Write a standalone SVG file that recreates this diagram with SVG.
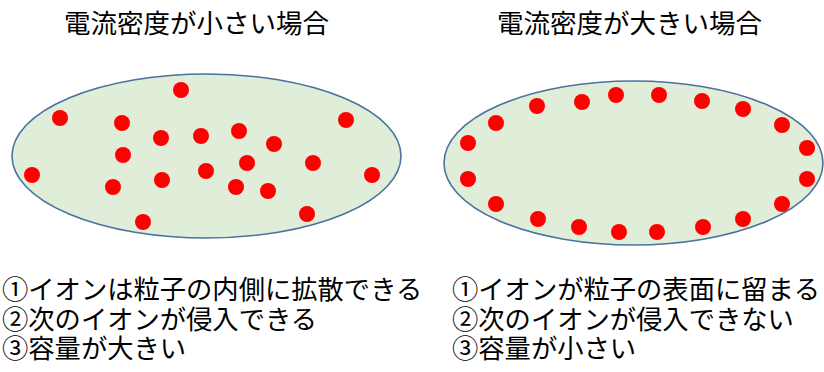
<svg xmlns="http://www.w3.org/2000/svg" width="824" height="372" viewBox="0 0 824 372">
<defs>
<style>
.t{font-family:"Noto Sans CJK JP","Noto Sans CJK SC",sans-serif;font-size:26.5px;fill:#000}
.b{font-family:"Noto Sans CJK JP","Noto Sans CJK SC",sans-serif;font-size:26.3px;fill:#000}
.e{fill:#e0edd8;stroke:#4a72a0;stroke-width:1.6}
.d{fill:#ff0000}
</style>
</defs>
<rect width="824" height="372" fill="#fff"/>
<g id="title-left"><text class="t" x="64" y="33">電流密度が小さい場合</text></g>
<g id="title-right"><text class="t" x="497" y="33">電流密度が大きい場合</text></g>
<g id="particle-left">
<ellipse class="e" cx="206.5" cy="156" rx="194.5" ry="82"/>
<circle class="d" cx="181" cy="90" r="8"/>
<circle class="d" cx="60" cy="118" r="8"/>
<circle class="d" cx="122" cy="123" r="8"/>
<circle class="d" cx="161" cy="138" r="8"/>
<circle class="d" cx="201" cy="136" r="8"/>
<circle class="d" cx="239" cy="131" r="8"/>
<circle class="d" cx="274" cy="144" r="8"/>
<circle class="d" cx="346" cy="120" r="8"/>
<circle class="d" cx="123" cy="155" r="8"/>
<circle class="d" cx="32" cy="175" r="8"/>
<circle class="d" cx="113" cy="187" r="8"/>
<circle class="d" cx="162" cy="180" r="8"/>
<circle class="d" cx="206" cy="171" r="8"/>
<circle class="d" cx="247" cy="163" r="8"/>
<circle class="d" cx="236" cy="187" r="8"/>
<circle class="d" cx="268" cy="191" r="8"/>
<circle class="d" cx="313" cy="163" r="8"/>
<circle class="d" cx="372" cy="175" r="8"/>
<circle class="d" cx="143" cy="222" r="8"/>
<circle class="d" cx="307" cy="214" r="8"/>
</g>
<g id="particle-right">
<ellipse class="e" cx="633.5" cy="163" rx="189.5" ry="82"/>
<circle class="d" cx="616" cy="95" r="8"/>
<circle class="d" cx="659" cy="95" r="8"/>
<circle class="d" cx="702" cy="101" r="8"/>
<circle class="d" cx="743" cy="109" r="8"/>
<circle class="d" cx="782" cy="125" r="8"/>
<circle class="d" cx="807" cy="148" r="8"/>
<circle class="d" cx="807" cy="179" r="8"/>
<circle class="d" cx="782" cy="204" r="8"/>
<circle class="d" cx="743" cy="219" r="8"/>
<circle class="d" cx="703" cy="227" r="8"/>
<circle class="d" cx="657" cy="232" r="8"/>
<circle class="d" cx="619" cy="232" r="8"/>
<circle class="d" cx="579" cy="227" r="8"/>
<circle class="d" cx="538" cy="219" r="8"/>
<circle class="d" cx="496" cy="204" r="8"/>
<circle class="d" cx="468" cy="179" r="8"/>
<circle class="d" cx="468" cy="143" r="8"/>
<circle class="d" cx="496" cy="123" r="8"/>
<circle class="d" cx="537" cy="106" r="8"/>
<circle class="d" cx="582" cy="102" r="8"/>
</g>
<g id="notes-left">
<text class="b" x="2" y="299"><tspan x="2" y="299">①イオンは粒子の内側に拡散できる</tspan><tspan x="2" y="328.5">②次のイオンが侵入できる</tspan><tspan x="2" y="358">③容量が大きい</tspan></text>
</g>
<g id="notes-right">
<text class="b" x="452" y="299"><tspan x="452" y="299">①イオンが粒子の表面に留まる</tspan><tspan x="452" y="328.5">②次のイオンが侵入できない</tspan><tspan x="452" y="358">③容量が小さい</tspan></text>
</g>
<g id="connectors"/>
</svg>
